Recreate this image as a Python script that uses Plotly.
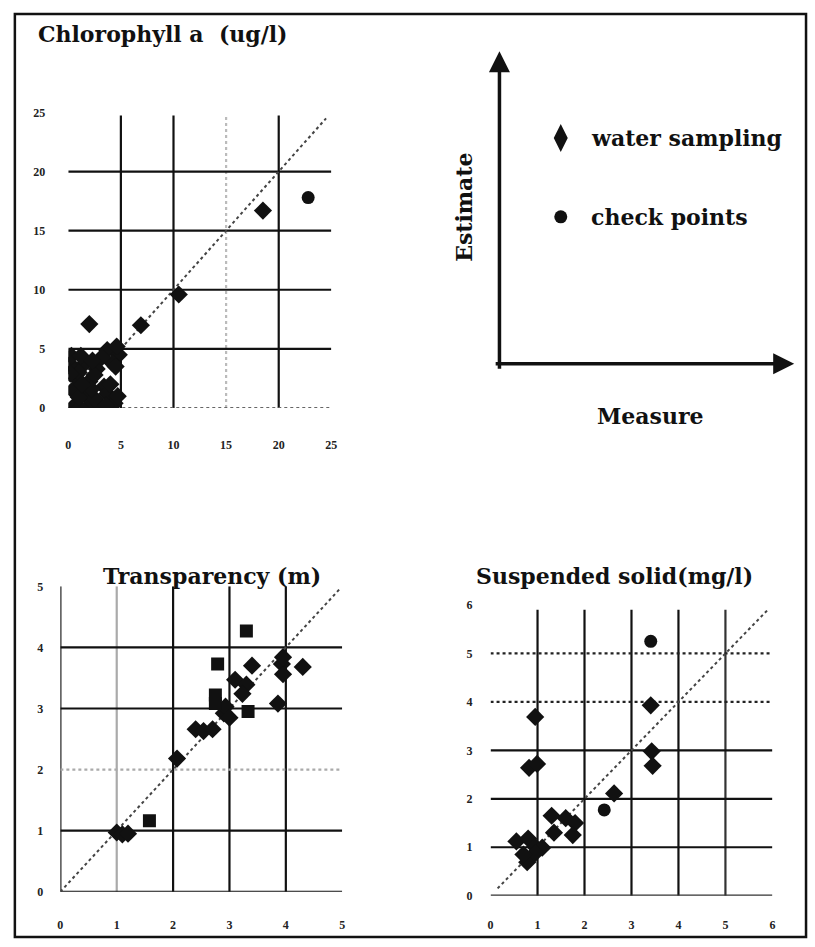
import plotly.graph_objects as go

W, H = 815, 947

# ---------------- data ----------------
chl_ticks = [0, 5, 10, 15, 20, 25]
chl_ws_x = [2.0, 6.9, 10.5, 18.5, 0.2, 1.5, 3.7, 4.8, 2.7, 0.8, 2.0, 3.4, 3.7, 1.5, 0.6, 1.8, 3.0, 4.4, 1.1,
            4.2, 0.4, 0.5, 1.0, 2.5, 4.5, 4.0, 2.5, 1.0, 3.2, 4.6, 0.3, 2.2, 1.2, 4.7, 2.3, 1.3, 3.6, 0.2]
chl_ws_y = [7.1, 7.0, 9.6, 16.7, 3.7, 3.7, 4.9, 4.5, 3.3, 2.5, 2.25, 1.8, 1.2, 1.2, 0.2, 0.0, 0.3, 0.4, 0.05,
            3.8, 1.5, 3.2, 3.0, 2.8, 3.5, 2.0, 0.8, 0.9, 4.3, 5.2, 4.4, 1.6, 4.4, 1.0, 4.0, 2.0, 0.2, 2.9]
chl_cp_x = [22.8]
chl_cp_y = [17.8]
chl_line = [5, 24.5]

tr_ticks = [0, 1, 2, 3, 4, 5]
tr_ws_x = [1.0, 1.1, 1.2, 2.07, 2.4, 2.54, 2.7, 2.9, 2.93, 3.1, 3.3, 3.23, 3.4, 3.93, 3.95, 3.86, 3.95, 4.3, 3.0]
tr_ws_y = [0.97, 0.94, 0.95, 2.18, 2.66, 2.63, 2.66, 2.92, 3.03, 3.47, 3.39, 3.24, 3.7, 3.73, 3.56, 3.08, 3.84, 3.68, 2.85]
tr_cp_x = [1.58, 2.79, 2.75, 2.75, 3.33, 3.3]
tr_cp_y = [1.16, 3.73, 3.22, 3.08, 2.95, 4.27]
tr_line = [0, 4.95]

ss_ticks = [0, 1, 2, 3, 4, 5, 6]
ss_ws_x = [3.41, 0.95, 0.82, 0.99, 3.43, 3.45, 2.63, 1.3, 1.6, 1.8, 1.35, 1.75, 0.55, 0.8, 0.95, 1.1, 0.78, 0.95, 0.7]
ss_ws_y = [3.93, 3.69, 2.64, 2.72, 2.98, 2.68, 2.11, 1.65, 1.6, 1.5, 1.3, 1.25, 1.12, 1.18, 1.01, 0.99, 0.69, 0.88, 0.85]
ss_cp_x = [3.41, 2.42]
ss_cp_y = [5.25, 1.77]
ss_line = [0.15, 5.9]

titles = ["Chlorophyll a  (ug/l)", "Transparency (m)", "Suspended solid(mg/l)"]
legend_names = ["water sampling", "check points"]
axis_names = ["Estimate", "Measure"]

# ---------------- layout helpers ----------------
def px_x(p):
    return p / W

def px_y(p):
    return 1 - p / H

SERIF = "DejaVu Serif"
TICKSERIF = "Liberation Serif"
INK = "#111111"

fig = go.Figure()

panels = [
    dict(t=chl_ticks, wx=chl_ws_x, wy=chl_ws_y, cx=chl_cp_x, cy=chl_cp_y, ln=chl_line,
         xpix=(66, 332), ypix=(407, 107), sym="circle", xs=28, ys=22, ax=""),
    dict(t=tr_ticks, wx=tr_ws_x, wy=tr_ws_y, cx=tr_cp_x, cy=tr_cp_y, ln=tr_line,
         xpix=(58, 343), ypix=(898, 588), sym="square", xs=24, ys=16, ax="2"),
    dict(t=ss_ticks, wx=ss_ws_x, wy=ss_ws_y, cx=ss_cp_x, cy=ss_cp_y, ln=ss_line,
         xpix=(493, 778), ypix=(902, 607), sym="circle", xs=20, ys=17, ax="3"),
]

grid_styles = [
    dict(v=[(5, INK, "solid"), (10, INK, "solid"), (15, "#bbbbbb", "dot"), (20, INK, "solid")],
         h=[(0, "#666666", "dot"), (5, INK, "solid"), (10, INK, "solid"), (15, INK, "solid"), (20, INK, "solid")],
         vtop=24.75, hright=25),
    dict(v=[(0, INK, "solid"), (1, "#aaaaaa", "solid"), (2, INK, "solid"), (3, INK, "solid"), (4, INK, "solid")],
         h=[(0, INK, "solid"), (1, INK, "solid"), (2, "#aaaaaa", "dot"), (3, INK, "solid"), (4, INK, "solid")],
         vtop=5, hright=5),
    dict(v=[(1, INK, "solid"), (2, INK, "solid"), (3, INK, "solid"), (4, INK, "solid"), (5, "#333333", "solid")],
         h=[(0, "#333333", "solid"), (1, INK, "solid"), (2, INK, "solid"), (3, INK, "solid"), (4, "#222222", "dot"), (5, "#222222", "dot")],
         vtop=5.9, hright=6),
]

shapes = []
for p, g in zip(panels, grid_styles):
    xr = "x" + p["ax"]
    yr = "y" + p["ax"]
    for v, c, d in g["v"]:
        shapes.append(dict(type="line", xref=xr, yref=yr, x0=v, x1=v, y0=0, y1=g["vtop"],
                           line=dict(color=c, width=2.2, dash=d), layer="below"))
    for v, c, d in g["h"]:
        shapes.append(dict(type="line", xref=xr, yref=yr, x0=0, x1=g["hright"], y0=v, y1=v,
                           line=dict(color=c, width=2.2, dash=d), layer="below"))

for p in panels:
    xa = "x" + p["ax"]
    ya = "y" + p["ax"]
    fig.add_trace(go.Scatter(x=p["ln"], y=p["ln"], mode="lines", xaxis=xa, yaxis=ya,
                             line=dict(color="#444444", width=2, dash="dot"), showlegend=False, hoverinfo="skip"))
    fig.add_trace(go.Scatter(x=p["wx"], y=p["wy"], mode="markers", xaxis=xa, yaxis=ya, name=legend_names[0],
                             marker=dict(symbol="diamond", size=14, color=INK), showlegend=False))
    fig.add_trace(go.Scatter(x=p["cx"], y=p["cy"], mode="markers", xaxis=xa, yaxis=ya, name=legend_names[1],
                             marker=dict(symbol=p["sym"], size=13, color=INK), showlegend=False))

tickfont = dict(family=TICKSERIF, size=12, color="#222222", weight="bold")
layout_axes = {}
for p in panels:
    suffix = p["ax"]
    t = p["t"]
    layout_axes["xaxis" + suffix] = dict(
        domain=[px_x(p["xpix"][0]), px_x(p["xpix"][1])], range=[t[0], t[-1]],
        anchor="y" + suffix, showgrid=False, zeroline=False, showline=False,
        tickmode="array", tickvals=t, ticktext=[str(v) for v in t], ticks="",
        tickfont=tickfont, ticklabelstandoff=p["xs"], fixedrange=True)
    layout_axes["yaxis" + suffix] = dict(
        domain=[px_y(p["ypix"][0]), px_y(p["ypix"][1])], range=[t[0], t[-1]],
        anchor="x" + suffix, showgrid=False, zeroline=False, showline=False,
        tickmode="array", tickvals=t, ticktext=[str(v) for v in t], ticks="",
        tickfont=tickfont, ticklabelstandoff=p["ys"], fixedrange=True)

# legend panel (hidden axis 4)
fig.add_trace(go.Scatter(x=[0.2], y=[0.75], mode="markers", xaxis="x4", yaxis="y4",
                         marker=dict(symbol="diamond-tall", size=20, color=INK), showlegend=False, hoverinfo="skip"))
fig.add_trace(go.Scatter(x=[0.2], y=[0.5], mode="markers", xaxis="x4", yaxis="y4",
                         marker=dict(symbol="circle", size=13, color=INK), showlegend=False, hoverinfo="skip"))
layout_axes["xaxis4"] = dict(domain=[px_x(505), px_x(800)], range=[0, 1], visible=False, anchor="y4")
layout_axes["yaxis4"] = dict(domain=[px_y(373), px_y(53)], range=[0, 1], visible=False, anchor="x4")

tfont = dict(family=SERIF, size=22, color=INK, weight="bold")
ann = []
ann.append(dict(x=px_x(33), y=px_y(27), xref="paper", yref="paper", xanchor="left", yanchor="middle",
                text=titles[0], showarrow=False, font=tfont))
ann.append(dict(x=px_x(211), y=px_y(578), xref="paper", yref="paper", xanchor="center", yanchor="middle",
                text=titles[1], showarrow=False, font=tfont))
ann.append(dict(x=px_x(618), y=px_y(578), xref="paper", yref="paper", xanchor="center", yanchor="middle",
                text=titles[2], showarrow=False, font=tfont))
ann.append(dict(x=px_x(593), y=px_y(133), xref="paper", yref="paper", xanchor="left", yanchor="middle",
                text=legend_names[0], showarrow=False, font=tfont))
ann.append(dict(x=px_x(593), y=px_y(213), xref="paper", yref="paper", xanchor="left", yanchor="middle",
                text=legend_names[1], showarrow=False, font=tfont))
ann.append(dict(x=px_x(466), y=px_y(203), xref="paper", yref="paper", xanchor="center", yanchor="middle",
                text=axis_names[0], textangle=-90, showarrow=False, font=tfont))
ann.append(dict(x=px_x(655), y=px_y(415), xref="paper", yref="paper", xanchor="center", yanchor="middle",
                text=axis_names[1], showarrow=False, font=tfont))
# arrows of the schematic axes (offsets in pixels)
ann.append(dict(x=px_x(502), y=px_y(45), ax=0, ay=319, xref="paper", yref="paper",
                axref="pixel", ayref="pixel", text="", showarrow=True, arrowhead=2, arrowsize=1.2,
                arrowwidth=3.5, arrowcolor=INK))
ann.append(dict(x=px_x(800), y=px_y(362), ax=-300, ay=0, xref="paper", yref="paper",
                axref="pixel", ayref="pixel", text="", showarrow=True, arrowhead=2, arrowsize=1.2,
                arrowwidth=3.5, arrowcolor=INK))

# outer frame
shapes.append(dict(type="rect", xref="paper", yref="paper", x0=px_x(12), x1=px_x(812), y0=px_y(944), y1=px_y(7),
                   line=dict(color=INK, width=2.5), fillcolor="rgba(0,0,0,0)"))

fig.update_layout(
    width=W, height=H, margin=dict(l=0, r=0, t=0, b=0),
    paper_bgcolor="white", plot_bgcolor="rgba(0,0,0,0)",
    showlegend=False, shapes=shapes, annotations=ann,
    **layout_axes,
)

fig.write_html("out.html", config={"displayModeBar": False},
               post_script="document.body.style.margin='0';document.body.style.overflow='hidden';")
